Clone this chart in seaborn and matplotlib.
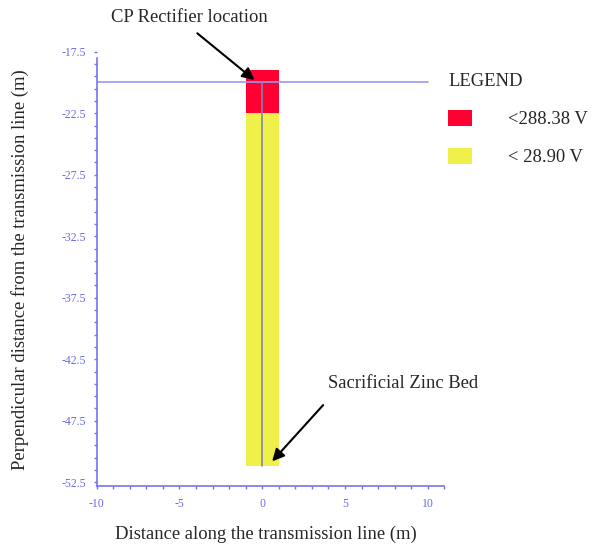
import matplotlib
matplotlib.use("Agg")
import matplotlib.pyplot as plt
from matplotlib.patches import Patch
from matplotlib.ticker import MultipleLocator
import seaborn as sns

# zone data (voltage bands along the bed)
zone_labels = ["<288.38 V", "< 28.90 V"]
zone_top = [-19.0, -22.5]
zone_bottom = [-22.5, -51.2]
zone_colors = ["#ff0033", "#f0f04a"]
bed_center = 0.0
bed_width = 2.0

# transmission line and cable
line_y = -20.0
line_x = [-10.0, 10.0]
cable_x = [0.0, 0.0]
cable_y = [-20.0, -51.2]

# annotation targets
rectifier_xy = (-0.47, -19.8)
zinc_xy = (0.6, -50.8)

sns.set_style("white")
plt.rcParams["font.family"] = ["Liberation Serif", "DejaVu Serif"]
plt.rcParams["axes.unicode_minus"] = False

tick_blue = "#6a6ae6"
big = 13.4

fig = plt.figure(figsize=(5.92, 5.48), dpi=100)
ax = fig.add_axes([96.7 / 592, 1 - 485.7 / 548, 347.6 / 592, 434 / 548])

# draw the colored zones as stacked bars
for top, bot, col in zip(zone_top, zone_bottom, zone_colors):
    ax.bar(bed_center, top - bot, bottom=bot, width=bed_width, color=col,
           edgecolor="none", zorder=1)

ax.plot(line_x, [line_y, line_y], color="#9a9af0", lw=1.2, zorder=2)
ax.plot(cable_x, cable_y, color="#8484b0", lw=1.2, zorder=2)

ax.set_xlim(-10, 11)
ax.set_ylim(-52.78, -17.5)

ax.xaxis.set_major_locator(MultipleLocator(5))
ax.xaxis.set_minor_locator(MultipleLocator(1))
ax.set_yticks([-17.5, -22.5, -27.5, -32.5, -37.5, -42.5, -47.5, -52.5])
ax.yaxis.set_minor_locator(MultipleLocator(1, offset=0.5))

for side in ["top", "right"]:
    ax.spines[side].set_visible(False)
for side in ["left", "bottom"]:
    ax.spines[side].set_color("#7474ee")
    ax.spines[side].set_linewidth(1.2)
ax.spines["left"].set_bounds(-52.78, -18.0)

ax.tick_params(axis="y", which="both", direction="out", length=2.5, width=1,
               color="#7474ee", labelcolor=tick_blue, labelsize=8.5, pad=5,
               left=True)
ax.tick_params(axis="x", which="both", direction="out", length=2.5, width=1,
               color="#7474ee", labelcolor=tick_blue, labelsize=8.5, pad=6,
               bottom=True)

ax.set_xlabel("Distance along the transmission line (m)", fontsize=big)
ax.set_ylabel("Perpendicular distance from the transmission line (m)", fontsize=big)
ax.xaxis.set_label_coords(0.487, -0.092)
ax.yaxis.set_label_coords(-0.195, 0.497)

# annotations
ax.annotate("CP Rectifier location", xy=rectifier_xy, xycoords="data",
            xytext=(189, 530), textcoords="figure pixels",
            ha="center", va="center", fontsize=big,
            arrowprops=dict(arrowstyle="-|>", color="black", lw=1.5,
                            mutation_scale=18, shrinkA=4, shrinkB=0,
                            relpos=(0.5, 0)),
            annotation_clip=False)
ax.annotate("Sacrificial Zinc Bed", xy=zinc_xy, xycoords="data",
            xytext=(403, 548 - 383), textcoords="figure pixels",
            ha="center", va="center", fontsize=big,
            arrowprops=dict(arrowstyle="-|>", color="black", lw=1.5,
                            mutation_scale=18, shrinkA=10, shrinkB=0,
                            relpos=(0.05, 0)))

# legend
handles = [Patch(facecolor=c, edgecolor="none") for c in zone_colors]
leg = ax.legend(handles, zone_labels, title="LEGEND", frameon=False,
                loc="upper left", bbox_to_anchor=(448 / 592, 1 - 73 / 548),
                bbox_transform=fig.transFigure, borderpad=0, borderaxespad=0,
                fontsize=big, title_fontsize=big, handlelength=1.3,
                handleheight=1.0, handletextpad=1.9, labelspacing=1.05,
                alignment="left")

fig.savefig("out.png", dpi=100)
